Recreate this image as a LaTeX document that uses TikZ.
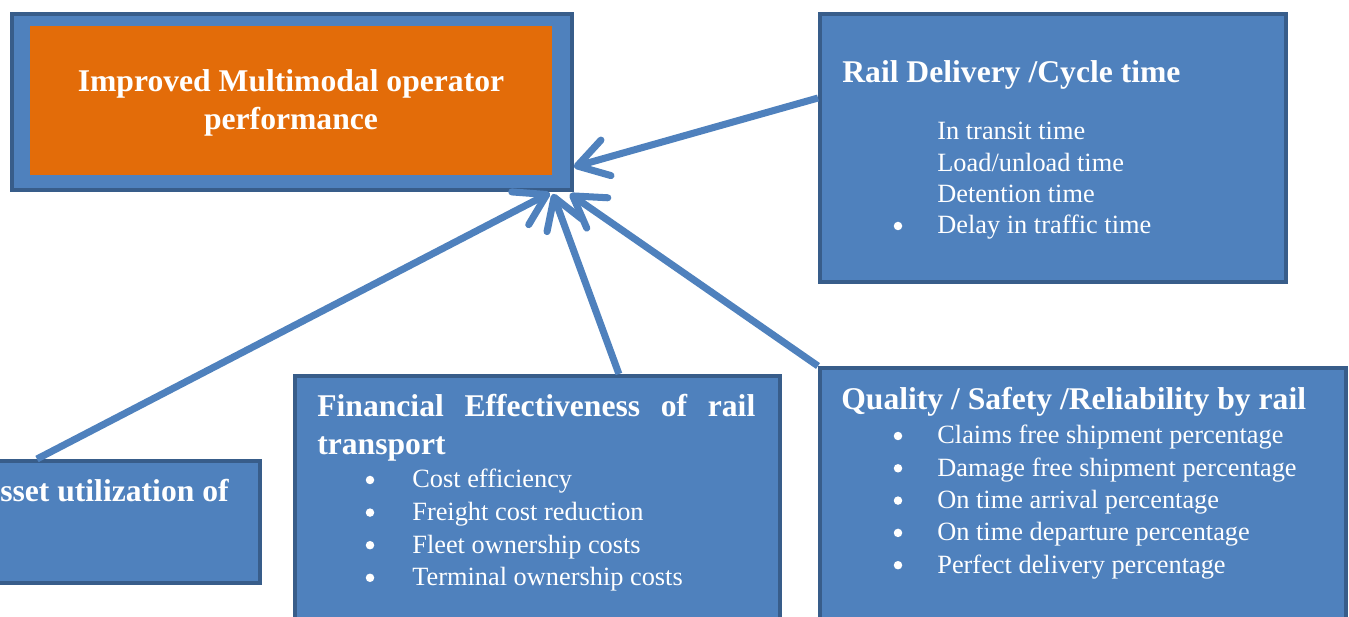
\documentclass[tikz,border=0pt]{standalone}
\usepackage{fontspec}
\setmainfont{Liberation Serif}
\usetikzlibrary{arrows.meta}
\definecolor{boxblue}{RGB}{79,129,189}
\definecolor{boxedge}{RGB}{56,93,138}
\definecolor{boxorange}{RGB}{227,108,9}
\tikzset{
  box-blue/.style={
    rectangle,
    draw=boxedge,
    line width=2.25pt,
    fill=boxblue,
    inner sep=0pt,
    anchor=north west
  },
  box-orange/.style={rectangle, fill=boxorange, inner sep=0pt, anchor=north west},
  head-text/.style={text=white, font=\bfseries\fontsize{18}{21.5}\selectfont, inner sep=0pt},
  item-text/.style={text=white, font=\fontsize{15}{18}\selectfont, inner sep=0pt, anchor=base west},
  item-dot/.style={circle, fill=white, minimum size=0.17cm, inner sep=0pt},
  link-arrow/.style={
    draw=boxblue,
    line width=4pt,
    line cap=butt,
    -{Straight Barb[length=17pt,width=21pt,round]}
  }
}

\begin{document}
\begin{tikzpicture}[x=0.02cm,y=-0.02cm]
  \useasboundingbox (0,0) rectangle (1349,617);
  \clip (0,0) rectangle (1349,617);
  % goal box (top left)
  \node[box-blue, minimum width=11.2cm, minimum height=3.52cm] (goal) at (10,12) {};
  \node[box-orange, minimum width=10.44cm, minimum height=2.98cm] (goal-inner) at (30,26) {};
  \node[head-text, align=center] (goal-text) at (291,103)
    {Improved Multimodal operator\\performance};
  % rail delivery box
  \node[box-blue, minimum width=9.32cm, minimum height=5.36cm] (rail) at (818,12) {};
  \node[head-text, anchor=base west] (rail-head) at (842,83) {Rail Delivery /Cycle time};
  \foreach \txt [count=\i from 0] in {In transit time, Load/unload time, Detention time, Delay in traffic time}{
    \node[item-text] (rail-item-\i) at (937,140+31.3*\i) {\txt};
  }
  \node[item-dot] (rail-dot) at (898,226) {};
  % asset box (cut at left edge)
  \node[box-blue, minimum width=6.36cm, minimum height=2.44cm] (asset) at (-60,459) {};
  \node[head-text, anchor=base east] (asset-head) at (229,502) {Asset utilization of};
  % financial box
  \node[box-blue, minimum width=9.7cm, minimum height=5.8cm] (finance) at (293,374) {};
  \node[head-text, anchor=base west, text width=8.76cm, align=left] (finance-head) at (317,417)
    {Financial\hfill Effectiveness\hfill of\hfill rail\\transport};
  \foreach \txt [count=\i from 0] in {Cost efficiency, Freight cost reduction, Fleet ownership costs, Terminal ownership costs}{
    \node[item-text] (finance-item-\i) at (412,488+32.6*\i) {\txt};
    \node[item-dot] (finance-dot-\i) at (370,480+32.6*\i) {};
  }
  % quality box
  \node[box-blue, minimum width=10.52cm, minimum height=6cm] (quality) at (818,366) {};
  \node[head-text, anchor=base west] (quality-head) at (841,410) {Quality / Safety /Reliability by rail};
  \foreach \txt [count=\i from 0] in {Claims free shipment percentage, Damage free shipment percentage, On time arrival percentage, On time departure percentage, Perfect delivery percentage}{
    \node[item-text] (quality-item-\i) at (937,444+32.3*\i) {\txt};
    \node[item-dot] (quality-dot-\i) at (898,436+32.3*\i) {};
  }
  % arrow tips at the goal box
  \coordinate (tip-rail) at ([shift={(0.0cm,0.5cm)}]goal.south east);
  \coordinate (tip-asset) at ([shift={(-0.48cm,-0.02cm)}]goal.south east);
  \coordinate (tip-finance) at ([shift={(-0.42cm,-0.04cm)}]goal.south east);
  \coordinate (tip-quality) at ([shift={(-0.08cm,-0.04cm)}]goal.south east);
  % links
  \draw[link-arrow] (rail.168) -- (tip-rail);
  \draw[link-arrow] ([xshift=-1.28cm]asset.north) -- (tip-asset);
  \draw[link-arrow] ([xshift=1.63cm]finance.north) -- (tip-finance);
  \draw[link-arrow] (quality.north west) -- (tip-quality);
\end{tikzpicture}
\end{document}
